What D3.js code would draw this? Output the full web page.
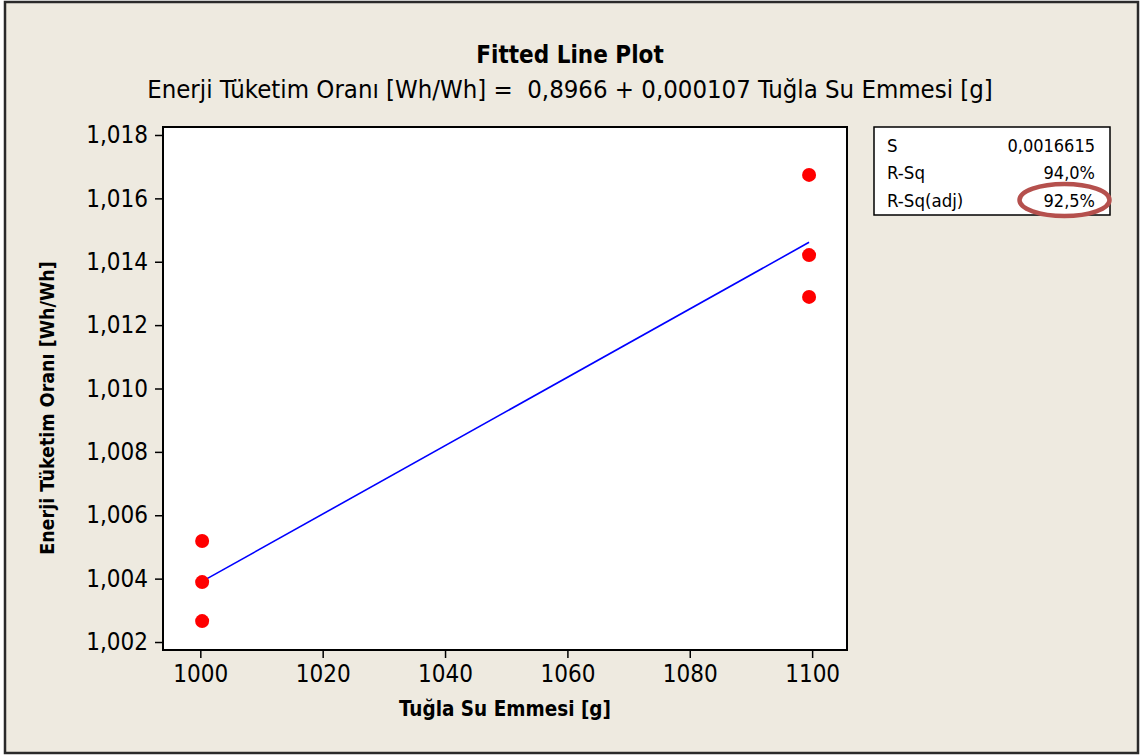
<!DOCTYPE html>
<html>
<head>
<meta charset="utf-8">
<script src="https://cdn.jsdelivr.net/npm/d3@7"></script>
<style>
  html, body { margin: 0; padding: 0; background: #ffffff; }
  svg { display: block; }
  text { font-family: "DejaVu Sans Condensed", "DejaVu Sans", sans-serif; fill: #000; white-space: pre; }
</style>
</head>
<body>
<svg id="chart" width="1147" height="756"></svg>
<script>
// ---- Data ----
const xValues = [1000.3, 1000.3, 1000.3, 1099.5, 1099.5, 1099.5];
const yValues = [1.00519, 1.00389, 1.00266, 1.01674, 1.01421, 1.01289];
const xTicks = [1000, 1020, 1040, 1060, 1080, 1100];
const yTicks = [1.002, 1.004, 1.006, 1.008, 1.010, 1.012, 1.014, 1.016, 1.018];
const titleText = "Fitted Line Plot";
const subtitleText = "Enerji Tüketim Oranı [Wh/Wh] =  0,8966 + 0,000107 Tuğla Su Emmesi [g]";
const xLabel = "Tuğla Su Emmesi [g]";
const yLabel = "Enerji Tüketim Oranı [Wh/Wh]";
const statLabels = ["S", "R-Sq", "R-Sq(adj)"];
const statValues = ["0,0016615", "94,0%", "92,5%"];

// ---- Layout ----
const plot = { left: 163, top: 127, right: 847, bottom: 650 };
const svg = d3.select("#chart");

svg.append("rect").attr("x", 5).attr("y", 2).attr("width", 1133).attr("height", 751)
  .attr("fill", "#EEEAE0").attr("stroke", "#2a2a2a").attr("stroke-width", 2.5);

const x = d3.scaleLinear().domain([993.9, 1105.7]).range([plot.left, plot.right]);
const y = d3.scaleLinear().domain([1.001748, 1.018252]).range([plot.bottom, plot.top]);

svg.append("rect").attr("x", plot.left).attr("y", plot.top)
  .attr("width", plot.right - plot.left).attr("height", plot.bottom - plot.top)
  .attr("fill", "#ffffff").attr("stroke", "#000").attr("stroke-width", 2);

const fmtY = v => d3.format(".3f")(v).replace(".", ",");

const yAxis = svg.append("g").attr("transform", `translate(${plot.left},0)`)
  .call(d3.axisLeft(y).tickValues(yTicks).tickFormat(fmtY).tickSize(8).tickPadding(7));
const xAxis = svg.append("g").attr("transform", `translate(0,${plot.bottom})`)
  .call(d3.axisBottom(x).tickValues(xTicks).tickFormat(d3.format("d")).tickSize(8).tickPadding(7));
[yAxis, xAxis].forEach(a => {
  a.select(".domain").remove();
  a.selectAll(".tick line").attr("stroke", "#000").attr("stroke-width", 1.5);
  a.selectAll(".tick text").style("font-size", "24px").attr("fill", "#000")
    .style("font-family", '"DejaVu Sans Condensed", "DejaVu Sans", sans-serif');
});

// Least squares fit
const n = xValues.length;
const mx = d3.mean(xValues), my = d3.mean(yValues);
let sxy = 0, sxx = 0;
for (let i = 0; i < n; i++) { sxy += (xValues[i]-mx)*(yValues[i]-my); sxx += (xValues[i]-mx)**2; }
const b = sxy / sxx, a0 = my - b * mx;
const xr = d3.extent(xValues);
svg.append("path")
  .datum(xr.map(v => [v, a0 + b * v]))
  .attr("d", d3.line().x(d => x(d[0])).y(d => y(d[1])))
  .attr("fill", "none").attr("stroke", "#0000FF").attr("stroke-width", 1.6);

svg.append("g").selectAll("circle").data(xValues.map((v, i) => [v, yValues[i]]))
  .join("circle").attr("cx", d => x(d[0])).attr("cy", d => y(d[1])).attr("r", 7)
  .attr("fill", "#FF0000");

// Titles
svg.append("text").attr("x", 570).attr("y", 63).attr("text-anchor", "middle")
  .style("font-size", "24px").style("font-weight", "bold").text(titleText);
svg.append("text").attr("x", 570).attr("y", 98).attr("text-anchor", "middle")
  .style("font-size", "25.5px").text(subtitleText);
svg.append("text").attr("x", 505).attr("y", 716).attr("text-anchor", "middle")
  .style("font-size", "20.5px").style("font-weight", "bold").text(xLabel);
svg.append("text").attr("transform", `translate(54,408) rotate(-90)`)
  .attr("text-anchor", "middle").style("font-size", "19.5px").style("font-weight", "bold").text(yLabel);

// Stats box
svg.append("rect").attr("x", 874).attr("y", 127).attr("width", 236).attr("height", 88)
  .attr("fill", "#fff").attr("stroke", "#000").attr("stroke-width", 1.5);
const rowsY = [152, 179, 207];
statLabels.forEach((s, i) => {
  svg.append("text").attr("x", 887).attr("y", rowsY[i]).style("font-size", "18.5px").text(s);
  svg.append("text").attr("x", 1095).attr("y", rowsY[i]).attr("text-anchor", "end")
    .style("font-size", "18px").text(statValues[i]);
});
svg.append("ellipse").attr("cx", 1064.5).attr("cy", 200).attr("rx", 45).attr("ry", 16)
  .attr("fill", "none").attr("stroke", "#B5504D").attr("stroke-width", 4.5);
</script>
</body>
</html>
